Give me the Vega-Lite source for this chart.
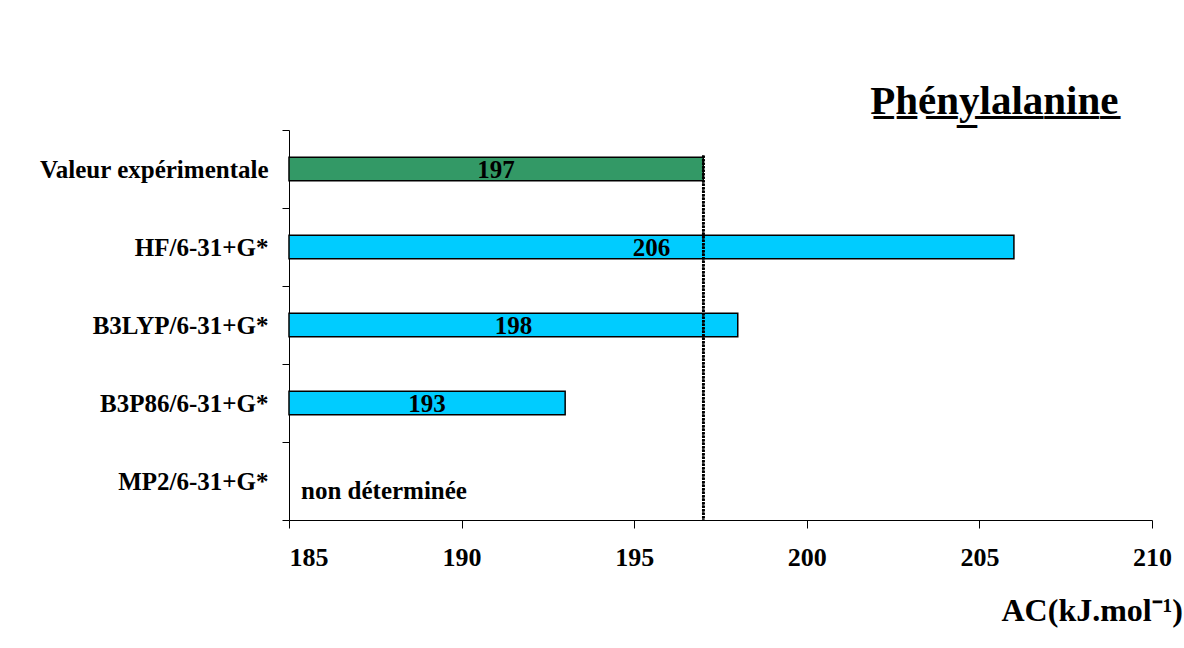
{
  "$schema": "https://vega.github.io/schema/vega-lite/v6.json",
  "autosize": "none",
  "width": 863,
  "height": 390,
  "padding": {"left": 289, "top": 130, "right": 32, "bottom": 128},
  "background": "white",
  "title": {
    "text": "P\u0332h\u0332\u00e9\u0332n\u0332y\u0332l\u0332a\u0332l\u0332a\u0332n\u0332i\u0332n\u0332e\u0332",
    "anchor": "end",
    "dx": -64,
    "offset": -37,
    "baseline": "alphabetic",
    "font": "Liberation Serif",
    "fontSize": 41,
    "fontWeight": "bold",
    "color": "black"
  },
  "data": {
    "values": [
      {"methode": "Valeur expérimentale", "valeur": 197, "type": "exp", "note": null},
      {"methode": "HF/6-31+G*", "valeur": 206, "type": "calc", "note": null},
      {"methode": "B3LYP/6-31+G*", "valeur": 198, "type": "calc", "note": null},
      {"methode": "B3P86/6-31+G*", "valeur": 193, "type": "calc", "note": null},
      {"methode": "MP2/6-31+G*", "valeur": null, "type": "calc", "note": "non déterminée"}
    ]
  },
  "encoding": {
    "y": {
      "field": "methode",
      "type": "nominal",
      "sort": null,
      "scale": {"paddingInner": 0, "paddingOuter": 0},
      "axis": {
        "title": null,
        "tickBand": "extent",
        "tickSize": 7,
        "tickColor": "black",
        "domainColor": "black",
        "labelPadding": 14,
        "labelFont": "Liberation Serif",
        "labelFontSize": 25,
        "labelFontWeight": "bold",
        "labelColor": "black",
        "labelLimit": 400
      }
    }
  },
  "layer": [
    {
      "mark": {"type": "bar", "height": {"band": 0.3}, "stroke": "black", "strokeWidth": 1.5},
      "encoding": {
        "x": {
          "field": "valeur",
          "type": "quantitative",
          "scale": {"domain": [185, 210], "zero": false, "nice": false},
          "axis": {
            "values": [185, 190, 195, 200, 205, 210],
            "grid": false,
            "tickSize": 8,
            "tickColor": "black",
            "domainColor": "black",
            "labelPadding": 16,
            "labelFont": "Liberation Serif",
            "labelFontSize": 26,
            "labelFontWeight": "bold",
            "labelColor": "black",
            "labelAlign": {"expr": "datum.value === 185 ? 'left' : 'center'"},
            "title": "AC(kJ.mol\u207b\u00b9)",
            "titleFont": "Liberation Serif",
            "titleFontSize": 32,
            "titleFontWeight": "bold",
            "titleColor": "black",
            "titleAlign": "left",
            "titleAnchor": "start",
            "titleBaseline": "alphabetic",
            "titleX": 712,
            "titleY": 100
          }
        },
        "x2": {"datum": 185},
        "color": {
          "field": "type",
          "type": "nominal",
          "scale": {"domain": ["exp", "calc"], "range": ["#339966", "#00CCFF"]},
          "legend": null
        }
      }
    },
    {
      "transform": [
        {"filter": "isValid(datum.valeur)"},
        {"calculate": "(185 + datum.valeur) / 2", "as": "milieu"}
      ],
      "mark": {"type": "text", "font": "Liberation Serif", "fontSize": 25, "fontWeight": "bold", "color": "black", "baseline": "middle", "dy": 1},
      "encoding": {
        "x": {"field": "milieu", "type": "quantitative"},
        "text": {"field": "valeur", "type": "quantitative"}
      }
    },
    {
      "transform": [{"filter": "isValid(datum.note)"}],
      "mark": {"type": "text", "font": "Liberation Serif", "fontSize": 25, "fontWeight": "bold", "color": "black", "align": "left", "baseline": "middle", "dx": 12, "dy": 10},
      "encoding": {
        "x": {"datum": 185, "type": "quantitative"},
        "text": {"field": "note", "type": "nominal"}
      }
    },
    {
      "mark": {"type": "rule", "color": "black", "strokeWidth": 2.5, "strokeDash": [2, 1.5]},
      "encoding": {
        "x": {"datum": 197, "type": "quantitative"},
        "y": {"datum": "Valeur expérimentale", "type": "nominal", "bandPosition": 0.33},
        "y2": {"datum": "MP2/6-31+G*", "bandPosition": 1}
      }
    }
  ],
  "config": {"view": {"stroke": null}}
}
